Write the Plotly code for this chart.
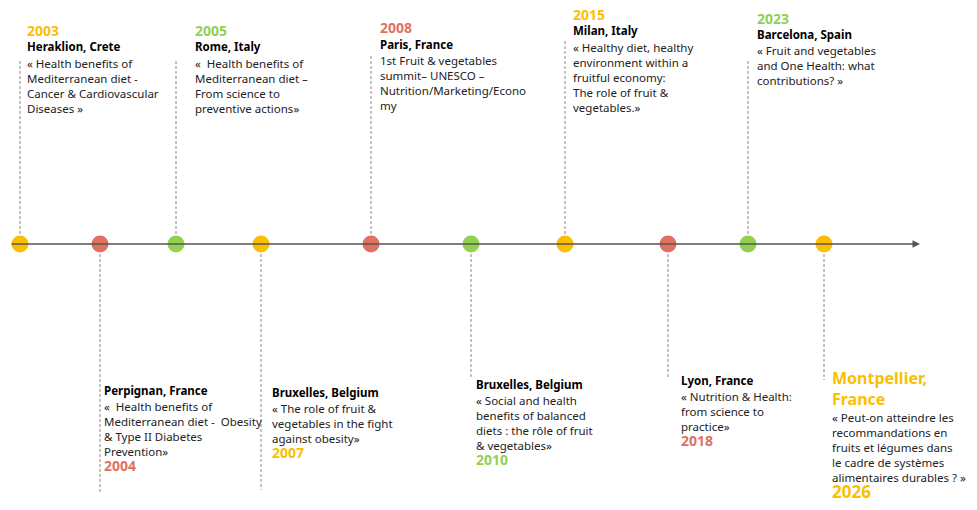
import plotly.graph_objects as go

# timeline events
years = ["2003", "2004", "2005", "2007", "2008", "2010", "2015", "2018", "2023", "2026"]
places = ["Heraklion, Crete", "Perpignan, France", "Rome, Italy", "Bruxelles, Belgium", "Paris, France",
          "Bruxelles, Belgium", "Milan, Italy", "Lyon, France", "Barcelona, Spain", "Montpellier,<br>France"]
descs = [
    "« Health benefits of<br>Mediterranean diet -<br>Cancer & Cardiovascular<br>Diseases »",
    "«  Health benefits of<br>Mediterranean diet -  Obesity<br>& Type II Diabetes<br>Prevention»",
    "«  Health benefits of<br>Mediterranean diet –<br>From science to<br>preventive actions»",
    "« The role of fruit &<br>vegetables in the fight<br>against obesity»",
    "1st Fruit & vegetables<br>summit– UNESCO –<br>Nutrition/Marketing/Econo<br>my",
    "« Social and health<br>benefits of balanced<br>diets : the rôle of fruit<br>& vegetables»",
    "« Healthy diet, healthy<br>environment within a<br>fruitful economy:<br>The role of fruit &<br>vegetables.»",
    "« Nutrition & Health:<br>from science to<br>practice»",
    "« Fruit and vegetables<br>and One Health: what<br>contributions? »",
    "« Peut-on atteindre les<br>recommandations en<br>fruits et légumes dans<br>le cadre de systèmes<br>alimentaires durables ? »",
]
dot_x = [20, 100, 176, 261, 371, 471, 565, 668, 748, 824]

YEL, RED, GRN = "#FBBF00", "#E0715F", "#92D050"
colors = [YEL, RED, GRN, YEL, RED, GRN, YEL, RED, GRN, YEL]

# layout in pixels (centre y of year, title, first description line)
text_x = [25, 102, 193, 270, 378, 474, 571, 679, 755, 830]
year_y = [30, 465, 30, 452, 27, 459, 14, 440, 18, 491]
title_y = [46, 390, 46, 392, 44, 384, 30, 380, 34, 388]
desc_y = [62, 405, 62, 407, 59, 399, 45, 395, 49, 415]
line_end = [60, 492, 60, 490, 55, 378, 40, 378, 60, 380]

AXIS_Y = 244
FONT = "Noto Sans"
LH = 16
fig = go.Figure()

for i in range(len(years)):
    fig.add_shape(type="line", x0=dot_x[i], x1=dot_x[i], y0=AXIS_Y, y1=line_end[i],
                  line=dict(color="#888888", width=1, dash="3px,2px"), layer="below")

fig.add_annotation(x=920, y=AXIS_Y, ax=10, ay=AXIS_Y, xref="x", yref="y", axref="x", ayref="y",
                   showarrow=True, arrowhead=2, arrowsize=1, arrowwidth=1.5, arrowcolor="#555555", text="")

fig.add_trace(go.Scatter(x=dot_x, y=[AXIS_Y] * len(dot_x), mode="markers",
                         marker=dict(size=17, color=colors), hoverinfo="skip"))

for i in range(len(years)):
    big = i == 9
    n = descs[i].count("<br>")
    fig.add_annotation(x=text_x[i], y=year_y[i], text=f"<b>{years[i]}</b>",
                       font=dict(size=17 if big else 14, color=colors[i], family=FONT))
    fig.add_annotation(x=text_x[i], y=title_y[i], text=f"<b>{places[i]}</b>",
                       font=dict(size=16 if big else 11.5, color=YEL if big else "black", family=FONT))
    fig.add_annotation(x=text_x[i], y=desc_y[i] + n * LH / 2, text=descs[i],
                       font=dict(size=11.5, color="#222222", family=FONT))

for a in fig.layout.annotations:
    if a.text:
        a.update(xref="x", yref="y", xanchor="left", yanchor="middle", showarrow=False, align="left")

fig.update_layout(width=977, height=510, margin=dict(l=0, r=0, t=0, b=0),
                  plot_bgcolor="white", paper_bgcolor="white", showlegend=False,
                  xaxis=dict(range=[8, 985], visible=False),
                  yaxis=dict(range=[518, 8], visible=False))
fig.write_html("out.html")
